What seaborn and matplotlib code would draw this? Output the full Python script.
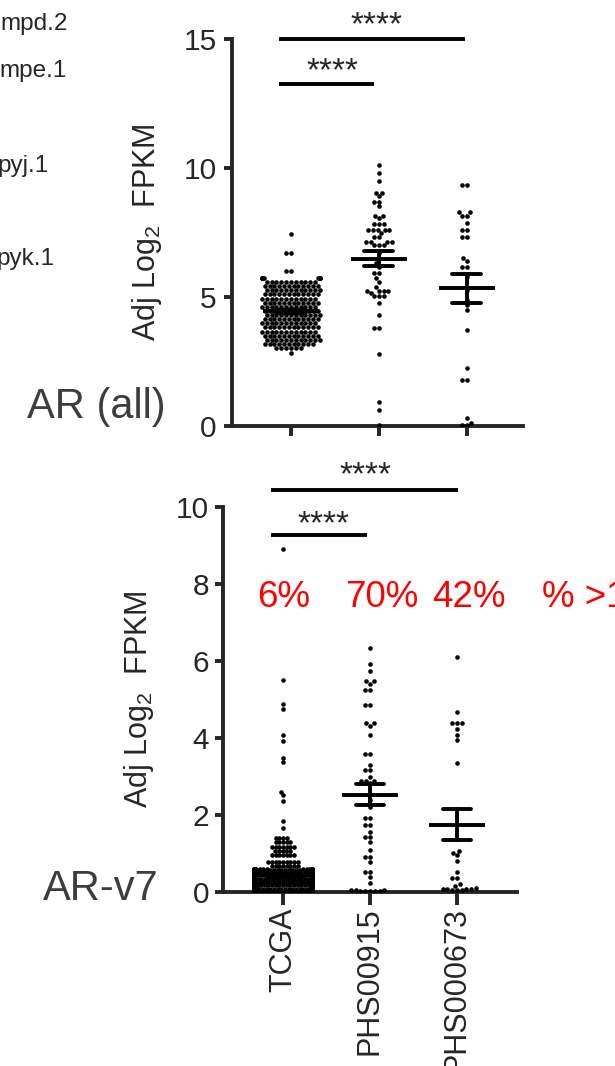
import numpy as np
import pandas as pd
import matplotlib
matplotlib.use("Agg")
import matplotlib.pyplot as plt
import seaborn as sns

# ---------------------------------------------------------------- data
groups = ["TCGA", "PHS00915", "PHS000673"]

# AR (all): TCGA values come in rows of tied values (level, count)
ar_tcga_levels = [2.82, 3.02, 3.18, 3.34, 3.50, 3.66, 3.82, 3.98, 4.14, 4.30, 4.46,
                  4.62, 4.78, 4.94, 5.10, 5.26, 5.42, 5.58, 5.72, 6.01, 6.72, 7.45]
ar_tcga_counts = [1, 6, 11, 12, 12, 12, 12, 12, 12, 12, 12,
                  12, 12, 12, 12, 12, 12, 11, 10, 2, 2, 1]
ar_phs00915 = [10.12, 9.80, 9.48, 9.03, 9.03, 8.90, 8.70, 8.70, 8.51, 8.15, 8.15,
               8.06, 7.84, 7.84, 7.84, 7.60, 7.60, 7.60, 7.60, 7.60, 7.47, 7.32,
               7.32, 7.15, 7.15, 7.15, 7.15, 7.02, 7.02, 7.02, 6.70, 6.50, 6.31,
               6.18, 5.92, 5.92, 5.73, 5.60, 5.40, 5.25, 5.25, 5.25, 5.25, 5.15,
               5.02, 5.02, 5.02, 4.76, 4.31, 3.79, 3.79, 2.79, 0.94, 0.62, 0.04]
ar_phs000673 = [9.35, 9.35, 8.28, 8.28, 8.15, 8.15, 7.86, 7.60, 7.60, 7.32, 7.32,
                6.50, 6.38, 6.18, 6.18, 5.79, 5.28, 4.89, 4.69, 4.50, 3.72, 2.24,
                1.78, 1.78, 0.30, 0.10, 0.04, 0.04]

# AR-v7: TCGA values as (level, count); most samples sit just above zero
v7_tcga_levels = [0.01, 0.03, 0.05, 0.07, 0.09, 0.11, 0.13, 0.15, 0.17, 0.19,
                  0.21, 0.23, 0.25, 0.27, 0.29, 0.31, 0.33, 0.35, 0.37, 0.39,
                  0.41, 0.43, 0.45, 0.47, 0.49, 0.51, 0.53, 0.55, 0.57, 0.59,
                  0.61, 0.68, 0.79, 0.97,
                  1.06, 1.16, 1.30, 1.40, 1.66, 1.84, 2.36, 2.52, 2.60, 3.38,
                  3.48, 3.93, 4.08, 4.75, 4.88, 5.50, 8.90]
v7_tcga_counts = [16, 16, 16, 16, 16, 16, 16, 16, 16, 16,
                  16, 16, 16, 16, 16, 16, 16, 16, 16, 16,
                  16, 16, 16, 16, 16, 14, 14, 12, 12, 10,
                  10, 8, 9, 7,
                  5, 7, 5, 4, 1, 1, 1, 1, 1, 1,
                  1, 1, 1, 1, 1, 1, 1]
v7_phs00915 = [6.33, 5.92, 5.74, 5.48, 5.48, 5.40, 5.25, 5.25, 4.86, 4.86, 4.39,
               4.39, 4.32, 4.08, 3.58, 3.58, 3.30, 3.17, 3.17, 2.99, 2.88, 2.88,
               2.88, 2.83, 2.20, 2.40, 1.92, 1.92, 1.75, 1.75, 1.57, 1.43, 1.43,
               1.30, 1.10, 0.92, 0.92, 0.78, 0.53, 0.53, 0.40, 0.24, 0.05, 0.04,
               0.04, 0.03, 0.03, 0.02, 0.02, 0.02]
v7_phs000673 = [6.10, 4.68, 4.38, 4.38, 4.38, 4.23, 4.07, 3.94, 3.36, 1.07, 1.01,
                0.96, 0.81, 0.53, 0.36, 0.36, 0.20, 0.16, 0.10, 0.09, 0.08, 0.08,
                0.07, 0.06, 0.06, 0.05]

pct_threshold = 1
pct_caption = "% >1"
sig_label = "****"
ylabel_text = "Adj Log$_2$  FPKM"
side_labels = ["mpd.2", "mpe.1", "pyj.1", "pyk.1"]

# ---------------------------------------------------------------- style
sns.set_style("ticks")
plt.rcParams["font.family"] = ["Liberation Sans", "DejaVu Sans"]
plt.rcParams["mathtext.default"] = "regular"

LW = 2.8
DOT = 3.3


def long_frame(tcga_levels, tcga_counts, phs_a, phs_b):
    tcga = np.repeat(tcga_levels, tcga_counts)
    parts = [tcga, np.asarray(phs_a), np.asarray(phs_b)]
    return pd.DataFrame({
        "group": np.concatenate([[g] * len(p) for g, p in zip(groups, parts)]),
        "value": np.concatenate(parts),
    })


def draw_panel(ax, df, tcga_spacing):
    # the crowded TCGA cohort is packed a little tighter than the dot size,
    # so neighbouring dots overlap as in a dense scatter dot plot
    is_tcga = df["group"] == groups[0]
    sns.swarmplot(data=df[is_tcga], x="group", y="value", order=groups,
                  color="black", size=tcga_spacing, linewidth=0,
                  warn_thresh=1.0, ax=ax)
    sns.swarmplot(data=df[~is_tcga], x="group", y="value", order=groups,
                  color="black", size=DOT, linewidth=0, warn_thresh=1.0, ax=ax)
    sns.pointplot(data=df, x="group", y="value", order=groups, errorbar="se",
                  capsize=0.33, color="black", linestyle="none", marker="_",
                  markersize=40, markeredgewidth=LW,
                  err_kws={"linewidth": LW}, ax=ax)
    sns.despine(ax=ax)
    for side in ("left", "bottom"):
        ax.spines[side].set_linewidth(LW)
    ax.set_xlabel("")
    ax.set_ylabel(ylabel_text, fontsize=22)


def bracket(ax, x0, x1, y, star_x, star_y):
    ax.plot([x0, x1], [y, y], color="black", lw=LW, clip_on=False,
            solid_capstyle="butt")
    ax.text(star_x, star_y, sig_label, ha="center", va="baseline",
            fontsize=24, clip_on=False)


fig = plt.figure(figsize=(6.15, 10.66), dpi=100)
ax_top = fig.add_axes([0.3772, 0.6004, 0.4732, 0.3630])
ax_bot = fig.add_axes([0.3626, 0.1632, 0.4780, 0.3612])

df_all = long_frame(ar_tcga_levels, ar_tcga_counts, ar_phs00915, ar_phs000673)
df_v7 = long_frame(v7_tcga_levels, v7_tcga_counts, v7_phs00915, v7_phs000673)

# ---------------------------------------------------------------- AR (all)
draw_panel(ax_top, df_all, DOT)
ax_top.set_xlim(-0.67, 2.64)
ax_top.set_ylim(0, 15)
ax_top.set_yticks([0, 5, 10, 15])
ax_top.set_xticklabels([])
ax_top.tick_params(axis="y", length=6, width=LW, labelsize=21.5, pad=5)
ax_top.tick_params(axis="x", length=7, width=LW)
ax_top.yaxis.set_label_coords(-0.234, 0.5)
bracket(ax_top, -0.14, 1.98, 15.0, 0.97, 15.2)
bracket(ax_top, -0.14, 0.94, 13.26, 0.47, 13.4)

# ---------------------------------------------------------------- AR-v7
draw_panel(ax_bot, df_v7, 2.5)
ax_bot.set_xlim(-0.69, 2.69)
ax_bot.set_ylim(0, 10)
ax_bot.set_yticks([0, 2, 4, 6, 8, 10])
ax_bot.set_xticks(range(len(groups)))
ax_bot.set_xticklabels(groups, rotation=90, fontsize=22)
ax_bot.tick_params(axis="y", length=6, width=LW, labelsize=21.5, pad=4)
ax_bot.tick_params(axis="x", length=9, width=LW, pad=2)
ax_bot.yaxis.set_label_coords(-0.228, 0.5)
bracket(ax_bot, -0.14, 2.01, 10.44, 0.95, 10.58)
bracket(ax_bot, -0.14, 0.97, 9.27, 0.47, 9.33)

# share of samples above the threshold, per group
pct_x = [0.01, 1.14, 2.14]
for x, g in zip(pct_x, groups):
    vals = df_v7.loc[df_v7["group"] == g, "value"]
    pct = int(round(100 * (vals > pct_threshold).mean()))
    ax_bot.text(x, 7.40, f"{pct}%", color="#ff0000", fontsize=26.5,
                ha="center", va="baseline", clip_on=False)
ax_bot.text(2.98, 7.40, pct_caption, color="#ff0000", fontsize=26.5,
            ha="left", va="baseline", clip_on=False)

# ---------------------------------------------------------------- side text
fig.text(0.0439, 0.6079, "AR (all)", fontsize=30, color="#3d3d3d",
         ha="left", va="baseline")
fig.text(0.0699, 0.1557, "AR-v7", fontsize=30, color="#3d3d3d",
         ha="left", va="baseline")
for label, x, y in zip(side_labels, [0.1106, 0.1089, 0.0797, 0.0878],
                       [0.9719, 0.9278, 0.8386, 0.7514]):
    fig.text(x, y, label, fontsize=17.5, ha="right", va="baseline")

# lay out the swarms once, keep the TCGA crowd within a narrower band,
# and give every dot the same drawn size
fig.canvas.draw()
for ax in (ax_top, ax_bot):
    for coll in ax.collections:
        xy = np.array(coll.get_offsets())
        if len(xy) == 0:
            continue
        center = np.round(np.median(xy[:, 0]))
        xy[:, 0] = np.clip(xy[:, 0], center - 0.33, center + 0.33)
        coll.set_offsets(xy)
        coll.set_sizes([DOT ** 2])
        if "draw" in coll.__dict__:
            del coll.draw

fig.savefig("out.png", dpi=100)
